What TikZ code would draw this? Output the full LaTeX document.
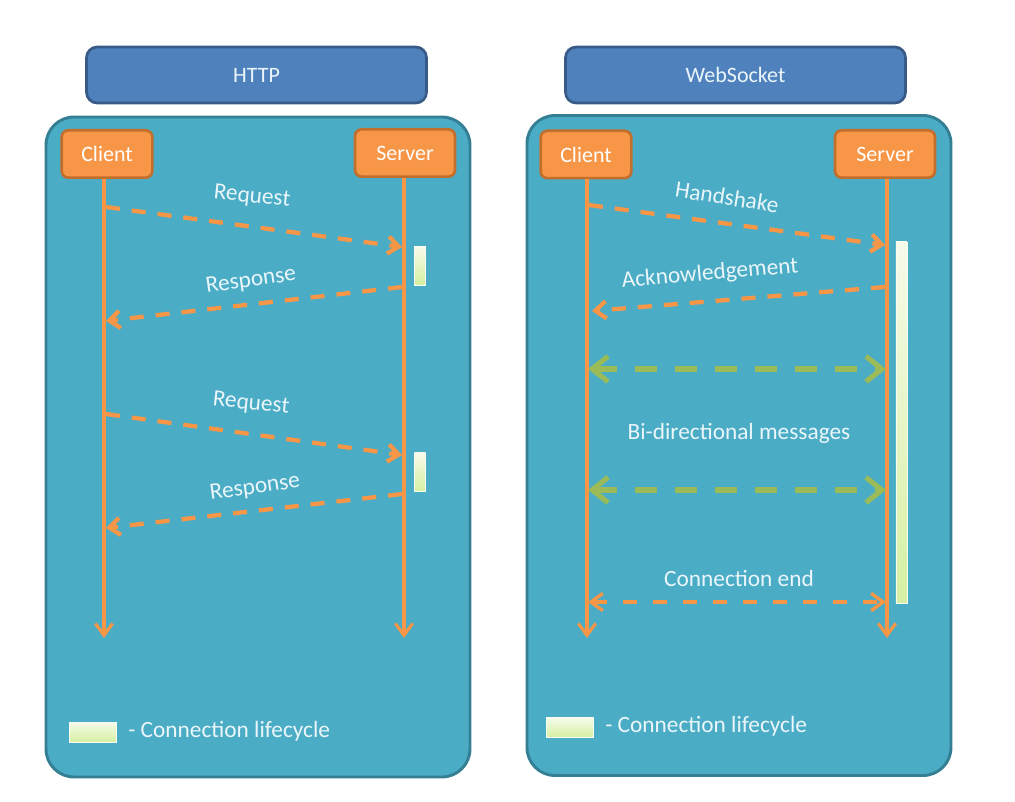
\documentclass[tikz,border=0pt]{standalone}
\usepackage{fontspec}
\setmainfont{Carlito}
\usetikzlibrary{arrows.meta}
\definecolor{titleblue}{HTML}{4F81BD}
\definecolor{titleedge}{HTML}{375A86}
\definecolor{panelfill}{HTML}{4BACC6}
\definecolor{paneledge}{HTML}{357F95}
\definecolor{orangefill}{HTML}{F79646}
\definecolor{orangeedge}{HTML}{C26F2E}
\definecolor{msggreen}{HTML}{9BBB59}
\definecolor{lifetop}{HTML}{F6FBEA}
\definecolor{lifebot}{HTML}{D6F0A2}
\definecolor{labeltext}{HTML}{EAF6FA}
\begin{document}
\begin{tikzpicture}[x=0.75pt,y=-0.75pt,
  titlebox/.style={draw=titleedge, line width=2pt, fill=titleblue, rounded corners=8pt,
    inner sep=0pt, minimum width=255pt, minimum height=42pt, text=labeltext,
    font=\fontsize{16.5}{19}\selectfont},
  panel/.style={draw=paneledge, line width=2.2pt, fill=panelfill, rounded corners=21pt,
    inner sep=0pt, minimum width=318pt, minimum height=495pt},
  actor/.style={draw=orangeedge, line width=2pt, fill=orangefill, rounded corners=5pt,
    inner sep=0pt, minimum height=35.5pt, text=white, font=\fontsize{16.5}{19}\selectfont},
  lifebar/.style={draw=white!85!lifebot, line width=0.4pt, top color=lifetop, bottom color=lifebot,
    inner sep=0pt, minimum width=8.5pt},
  lifeline/.style={draw=orangefill, line width=2.3pt, -{Straight Barb[length=9pt,width=13pt]}},
  msg/.style={draw=orangefill, line width=3.2pt, dash pattern=on 10.5pt off 9pt,
    -{Straight Barb[length=8pt,width=13pt]}},
  bimsg/.style={draw=msggreen, line width=3.8pt, dash pattern=on 16.5pt off 13.5pt,
    {Straight Barb[length=12pt,width=19pt]}-{Straight Barb[length=12pt,width=19pt]}},
  endmsg/.style={draw=orangefill, line width=2.5pt, dash pattern=on 11pt off 11.5pt,
    {Straight Barb[length=9pt,width=13pt]}-{Straight Barb[length=9pt,width=13pt]}},
  lbl/.style={text=labeltext, inner sep=0pt, font=\fontsize{17.5}{20}\selectfont},
]
\useasboundingbox (0,0) rectangle (1015,802);

% ---------------- HTTP ----------------
\node[titlebox] (httptitle) at (256.5,75) {HTTP};
\node[panel] (httppanel) at (258,447) {};
\node[actor, minimum width=68pt] (hclient) at (107,154) {Client};
\node[actor, minimum width=75pt] (hserver) at (405,153) {Server};

\coordinate (hcEnd) at (104,638);
\coordinate (hsEnd) at (404,638);
\draw[lifeline] (hclient.south -| hcEnd) -- (hcEnd);
\draw[lifeline] (hserver.south -| hsEnd) -- (hsEnd);

% connection lifecycle bars on the server side
\node[lifebar, minimum height=29pt] (hbar1) at (420,265.5) {};
\node[lifebar, minimum height=28.5pt] (hbar2) at (420,472) {};

% messages
\coordinate (hq1a) at (106,207);  \coordinate (hq1b) at (402,247);
\coordinate (hr1a) at (402,287);  \coordinate (hr1b) at (106,321);
\coordinate (hq2a) at (106,414);  \coordinate (hq2b) at (402,455);
\coordinate (hr2a) at (402,494);  \coordinate (hr2b) at (106,528);
\draw[msg] (hq1a) -- (hq1b);
\draw[msg] (hr1a) -- (hr1b);
\draw[msg] (hq2a) -- (hq2b);
\draw[msg] (hr2a) -- (hr2b);
\node[lbl, rotate=-6] (hq1l) at (252,197) {Request};
\node[lbl, rotate=8]  (hr1l) at (251,281) {Response};
\node[lbl, rotate=-6] (hq2l) at (251,404) {Request};
\node[lbl, rotate=8]  (hr2l) at (255,488) {Response};

% legend
\node[lifebar, minimum width=35pt, minimum height=15pt] (hkey) at (92.5,732) {};
\node[lbl, anchor=west] (hkeytext) at (128,731) {- Connection lifecycle};

% ---------------- WebSocket ----------------
\node[titlebox] (wstitle) at (735.5,75) {WebSocket};
\node[panel] (wspanel) at (739,445.5) {};
\node[actor, minimum width=68pt] (wclient) at (586,154.5) {Client};
\node[actor, minimum width=75pt] (wserver) at (885,154) {Server};

\coordinate (wcEnd) at (587,638);
\coordinate (wsEnd) at (887,638);
\draw[lifeline] (wclient.south -| wcEnd) -- (wcEnd);
\draw[lifeline] (wserver.south -| wsEnd) -- (wsEnd);

% one long connection lifecycle bar
\node[lifebar, minimum height=271pt] (wbar) at (901.5,422.5) {};

% handshake and acknowledgement
\coordinate (whsa) at (589,205);  \coordinate (whsb) at (885,245);
\coordinate (wacka) at (885,287); \coordinate (wackb) at (592,311);
\draw[msg] (whsa) -- (whsb);
\draw[msg] (wacka) -- (wackb);
\node[lbl, rotate=-9] (whsl) at (727,197) {Handshake};
\node[lbl, rotate=5]  (wackl) at (710,274) {Acknowledgement};

% bi-directional messages
\coordinate (wb1a) at (588,369); \coordinate (wb1b) at (886,369);
\coordinate (wb2a) at (588,490); \coordinate (wb2b) at (886,490);
\draw[bimsg] (wb1a) -- (wb1b);
\draw[bimsg] (wb2a) -- (wb2b);
\node[lbl] (wbil) at (739,433) {Bi-directional messages};

% connection end
\coordinate (wea) at (588,602); \coordinate (web) at (886,602);
\draw[endmsg] (wea) -- (web);
\node[lbl] (wendl) at (739,578) {Connection end};

% legend
\node[lifebar, minimum width=35pt, minimum height=15pt] (wkey) at (570,727.5) {};
\node[lbl, anchor=west] (wkeytext) at (605,726) {- Connection lifecycle};
\end{tikzpicture}
\end{document}
